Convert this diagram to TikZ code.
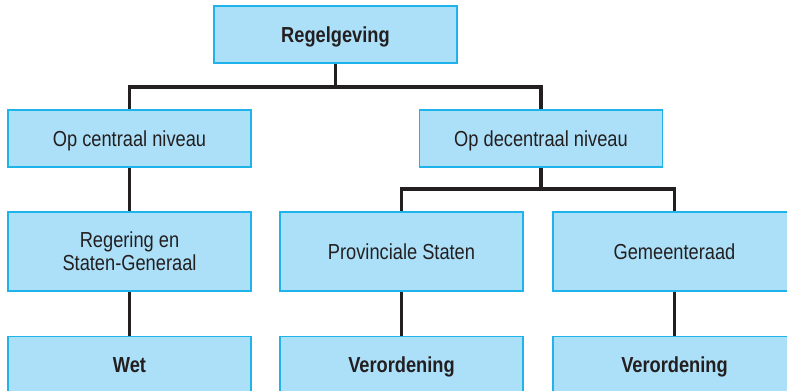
\documentclass[tikz,border=0pt]{standalone}
\usepackage{fontspec}
\setmainfont{Liberation Sans}[FakeStretch=0.84]
\definecolor{boxfill}{RGB}{172,224,249}
\definecolor{boxline}{RGB}{30,180,235}
\definecolor{lijn}{RGB}{35,31,32}

\begin{document}
\begin{tikzpicture}[x=0.75pt, y=-0.75pt,
    blok/.style={fill=boxfill, draw=boxline, line width=1.1pt, minimum width=182pt,
                 minimum height=42.75pt, inner sep=0pt, align=center, text=lijn,
                 font=\fontsize{16.3}{17.3}\selectfont},
    hoog/.style={blok, minimum height=59.5pt},
    laag/.style={blok, text height=12.6pt, text depth=0.8pt},
    verbind/.style={draw=lijn, line width=2.3pt}]
    \useasboundingbox (0,0) rectangle (787,391);
                \node(regel) at(335.5, 34.5) [laag] {\textbf{Regelgeving}};
                \node(centr) at(129.5, 138.5) [laag] {Op centraal niveau};
                \node(decen) at(541, 138.5) [laag] {Op decentraal niveau};
                \node(reger) at(129.5, 251.5) [hoog] {Regering en\\Staten-Generaal};
                \node(prov)  at(401.5, 251.5) [hoog] {Provinciale Staten};
                \node(gem)   at(674.5, 251.5) [hoog] {Gemeenteraad};
                \node(wet)   at(129.5, 365) [laag] {\textbf{Wet}};
                \node(verp)  at(401.5, 365) [laag] {\textbf{Verordening}};
                \node(verg)  at(674.5, 365) [laag] {\textbf{Verordening}};
                \coordinate(split_a) at(335.5, 87);
                \coordinate(split_b) at(541, 189);
                \draw[verbind] (regel.south) -- (split_a) -| (centr.north);
                \draw[verbind] (split_a) -| (decen.north);
                \draw[verbind] (decen.south) -- (split_b) -| (prov.north);
                \draw[verbind] (split_b) -| (gem.north);
                \draw[verbind] (centr) -- (reger);
                \draw[verbind] (reger) -- (wet);
                \draw[verbind] (prov) -- (verp);
                \draw[verbind] (gem) -- (verg);
\end{tikzpicture}
\end{document}
